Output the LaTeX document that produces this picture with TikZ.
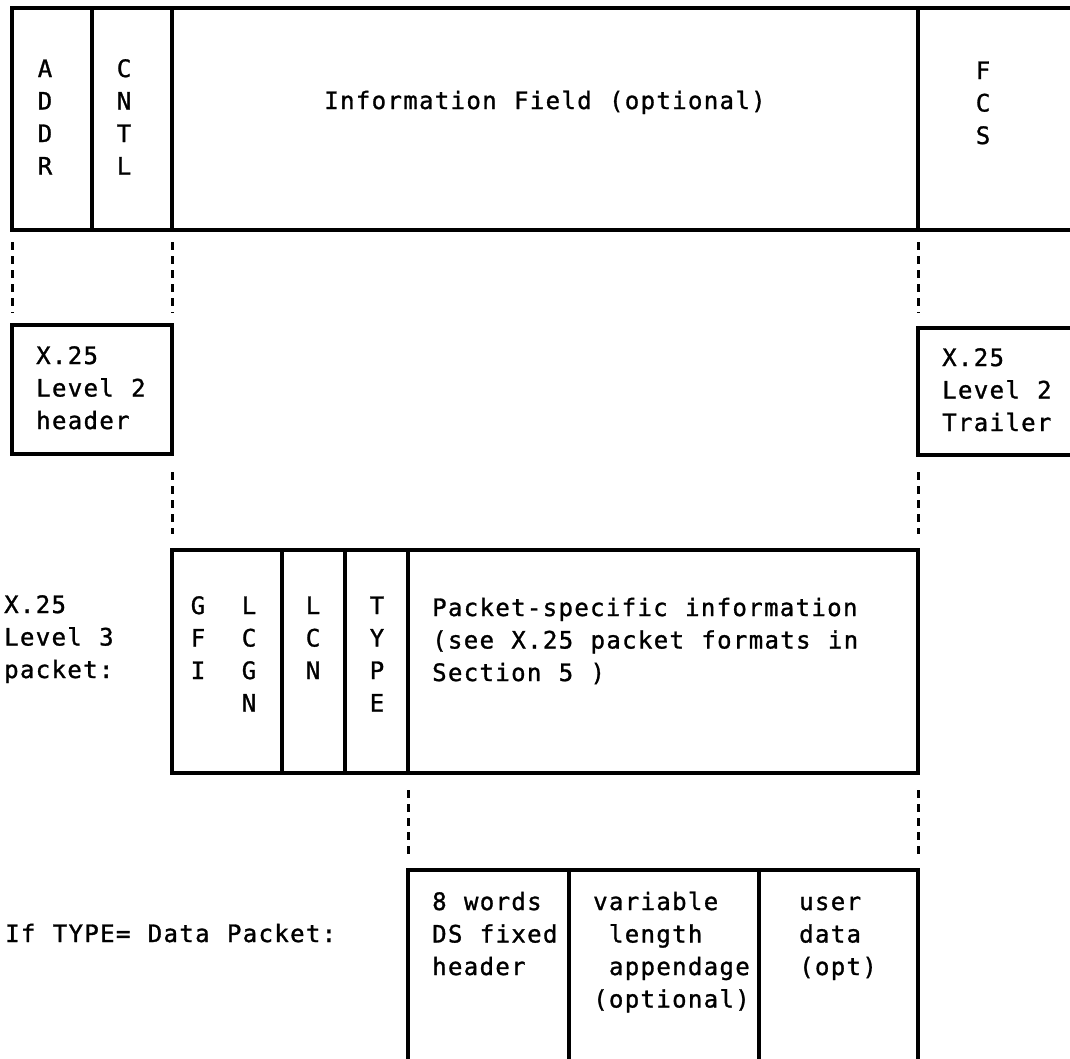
\documentclass[tikz,border=0pt]{standalone}
\usepackage{fontspec}
\newfontfamily\mono[LetterSpace=5.6,WordSpace=1.1,FakeBold=1.2]{DejaVu Sans Mono}
\newcommand{\stk}[2]{\begin{tabular}[t]{@{}#1@{}}#2\end{tabular}}
\tikzset{
  txt/.style={font=\mono\fontsize{24}{32.5}\selectfont, inner sep=0pt, text=black},
  boxline/.style={line width=3.2pt, line join=miter},
  dashline/.style={line width=3pt, dash pattern=on 8pt off 6pt}
}
\begin{document}
\begin{tikzpicture}[x=1pt,y=-1pt]
\useasboundingbox[fill=white] (0,0) rectangle (1070,1058);

% ---------- top frame (X.25 level 2 frame) ----------
\draw[boxline] (1080,8) -- (12,8) -- (12,230) -- (1080,230);
\draw[boxline] (92,8) -- (92,230);
\draw[boxline] (172,8) -- (172,230);
\draw[boxline] (918,8) -- (918,230);

\node[txt, anchor=base] (addr) at (45,77) {\stk{c}{A\\D\\D\\R}};
\node[txt, anchor=base] (cntl) at (124,77) {\stk{c}{C\\N\\T\\L}};
\node[txt, anchor=base] (info) at (545,109) {Information Field (optional)};
\node[txt, anchor=base] (fcs) at (983,79) {\stk{c}{F\\C\\S}};

% dashed links frame -> level 2 boxes
\coordinate (a1) at (12,242);  \coordinate (a2) at (12,313);
\coordinate (b1) at (172,242); \coordinate (b2) at (172,313);
\coordinate (c1) at (918,242); \coordinate (c2) at (918,313);
\draw[dashline] (a1) -- (a2);
\draw[dashline] (b1) -- (b2);
\draw[dashline] (c1) -- (c2);

% ---------- level 2 header / trailer ----------
\draw[boxline] (12,325) rectangle (172,454);
\node[txt, anchor=base west] (hdr) at (36,364) {\stk{l}{X.25\\Level 2\\header}};
\draw[boxline] (1080,328) -- (918,328) -- (918,455) -- (1080,455);
\node[txt, anchor=base west] (trl) at (942,366) {\stk{l}{X.25\\Level 2\\Trailer}};

% dashed links -> level 3 packet
\coordinate (d1) at (172,472); \coordinate (d2) at (172,534);
\coordinate (e1) at (918,472); \coordinate (e2) at (918,534);
\draw[dashline] (d1) -- (d2);
\draw[dashline] (e1) -- (e2);

% ---------- level 3 packet ----------
\node[txt, anchor=base west] (l3) at (4,613) {\stk{l}{X.25\\Level 3\\packet:}};
\draw[boxline] (172,550) rectangle (918,773);
\draw[boxline] (282,550) -- (282,773);
\draw[boxline] (345,550) -- (345,773);
\draw[boxline] (408,550) -- (408,773);
\node[txt, anchor=base] (gfi) at (198,614) {\stk{c}{G\\F\\I}};
\node[txt, anchor=base] (lcgn) at (249,614) {\stk{c}{L\\C\\G\\N}};
\node[txt, anchor=base] (lcn) at (313,614) {\stk{c}{L\\C\\N}};
\node[txt, anchor=base] (type) at (377,614) {\stk{c}{T\\Y\\P\\E}};
\node[txt, anchor=base west] (pkt) at (432,616) {\stk{l}{Packet-specific information\\(see X.25 packet formats in\\Section 5 )}};

% dashed links -> data packet
\coordinate (f1) at (408,790); \coordinate (f2) at (408,855);
\coordinate (g1) at (918,790); \coordinate (g2) at (918,855);
\draw[dashline] (f1) -- (f2);
\draw[dashline] (g1) -- (g2);

% ---------- data packet ----------
\node[txt, anchor=base west] (ifd) at (5,942) {If TYPE= Data Packet:};
\draw[boxline] (408,1070) -- (408,870) -- (918,870) -- (918,1070);
\draw[boxline] (569,870) -- (569,1070);
\draw[boxline] (759,870) -- (759,1070);
\node[txt, anchor=base west] (dsh) at (432,910) {\stk{l}{8 words\\DS fixed\\header}};
\node[txt, anchor=base west] (vla) at (593,910) {\stk{l}{variable\\\hspace*{15.8pt}length\\\hspace*{15.8pt}appendage\\(optional)}};
\node[txt, anchor=base west] (usr) at (799,910) {\stk{l}{user\\data\\(opt)}};
\end{tikzpicture}
\end{document}
